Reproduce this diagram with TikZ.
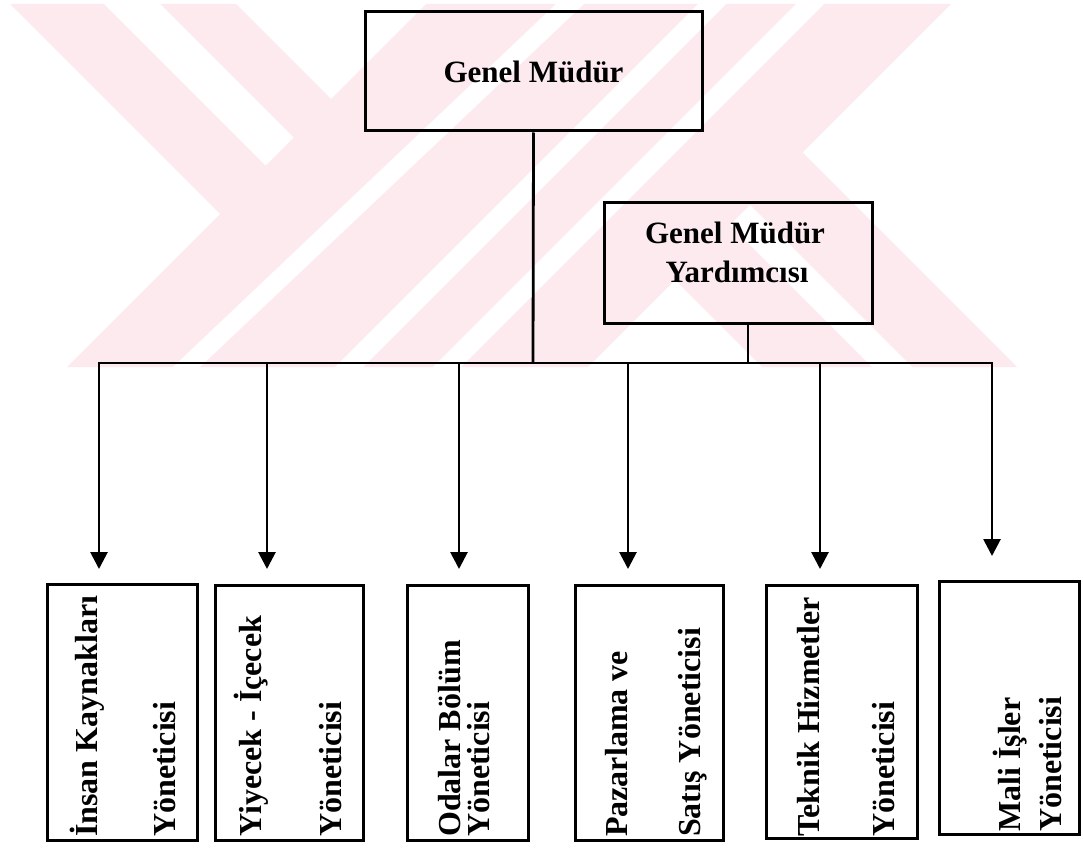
\documentclass[tikz,border=0pt]{standalone}
\usepackage{fontspec}
\setmainfont{Liberation Serif}
\usetikzlibrary{arrows.meta,calc}
\definecolor{wm}{RGB}{252,234,238}
\begin{document}
\begin{tikzpicture}[x=1pt,y=-1pt,
  box/.style={draw=black, line width=3pt, inner sep=0pt},
  ttl/.style={font=\bfseries\fontsize{31}{38}\selectfont, inner sep=0pt, align=center},
  vtxt/.style={font=\bfseries\fontsize{32}{38}\selectfont, inner sep=0pt, rotate=90, anchor=base west},
  link/.style={line width=2.8pt},
  arr/.style={line width=2.8pt, -{Triangle[width=17pt,length=17pt]}}]
\useasboundingbox (0,0) rectangle (1083,853);
% watermark
\fill[wm] (10,4) -- (236,4) -- (331,99) -- (426,4) -- (951,4) -- (802.5,152.5) -- (1017,367)
  -- (762,367) -- (675,280) -- (588,367) -- (67,367) -- (220,214) -- cycle;
\fill[white] (104,4) -- (160,4) -- (293.5,137.5) -- (265.5,165.5) -- cycle;
\fill[white] (556,4) -- (584,4) -- (200,367) -- (173,367) -- cycle;
\fill[white] (698,4) -- (726,4) -- (363,367) -- (335,367) -- cycle;
\fill[white] (796,4) -- (824,4) -- (461,367) -- (433,367) -- cycle;
\fill[white] (730,225) -- (750,205) -- (912,367) -- (872,367) -- cycle;
% top boxes
\node[box, ttl, minimum width=337pt, minimum height=119pt] (gm) at (533.5,71.5) {Genel Müdür};
\node[box, minimum width=268pt, minimum height=121pt] (gmy) at (738,262.5) {};
\node[ttl, anchor=base] (gmyt1) at (735,243) {Genel Müdür};
\node[ttl, anchor=base] (gmyt2) at (737,282) {Yardımcısı};
% bottom boxes
\node[box, minimum width=150pt, minimum height=256pt] (b1) at (122,712) {};
\node[box, minimum width=148pt, minimum height=255pt] (b2) at (289,712.5) {};
\node[box, minimum width=121pt, minimum height=255pt] (b3) at (467.5,712.5) {};
\node[box, minimum width=148pt, minimum height=255pt] (b4) at (649,712.5) {};
\node[box, minimum width=151pt, minimum height=253pt] (b5) at (841.5,711.5) {};
\node[box, minimum width=140pt, minimum height=253pt] (b6) at (1009,707.5) {};
% texts
\node[vtxt] (b1t1) at (97,837) {İnsan Kaynakları};
\node[vtxt] (b1t2) at (175,837) {Yöneticisi};
\node[vtxt] (b2t1) at (261,837) {Yiyecek - İçecek};
\node[vtxt] (b2t2) at (341,837) {Yöneticisi};
\node[vtxt] (b3t1) at (460,837) {Odalar Bölüm};
\node[vtxt] (b3t2) at (489,837) {Yöneticisi};
\node[vtxt] (b4t1) at (627,837) {Pazarlama ve};
\node[vtxt] (b4t2) at (700,837) {Satış Yöneticisi};
\node[vtxt] (b5t1) at (819,837) {Teknik Hizmetler};
\node[vtxt] (b5t2) at (894,837) {Yöneticisi};
\node[vtxt] (b6t1) at (1020,832) {Mali İşler};
\node[vtxt] (b6t2) at (1061,832) {Yöneticisi};
% connector coordinates
\coordinate (bl) at (99,363);
\coordinate (br) at (992,363);
\coordinate (gmb) at (533,363);
\coordinate (gmyc) at (748,323);
\coordinate (gmyb) at (748,363);
\coordinate (a1) at (99,363);  \coordinate (t1) at (99,569);
\coordinate (a2) at (267,363); \coordinate (t2) at (267,569);
\coordinate (a3) at (459,363); \coordinate (t3) at (459,569);
\coordinate (a4) at (628,363); \coordinate (t4) at (628,569);
\coordinate (a5) at (820,363); \coordinate (t5) at (820,569);
\coordinate (a6) at (992,363); \coordinate (t6) at (992,556);
% connectors
\draw[link] (gm.south) -- (gmb);
\draw[link] (gmyc) -- (gmyb);
\draw[link, line cap=rect] (bl) -- (br);
\draw[arr] (a1) -- (t1);
\draw[arr] (a2) -- (t2);
\draw[arr] (a3) -- (t3);
\draw[arr] (a4) -- (t4);
\draw[arr] (a5) -- (t5);
\draw[arr] (a6) -- (t6);
\end{tikzpicture}
\end{document}
